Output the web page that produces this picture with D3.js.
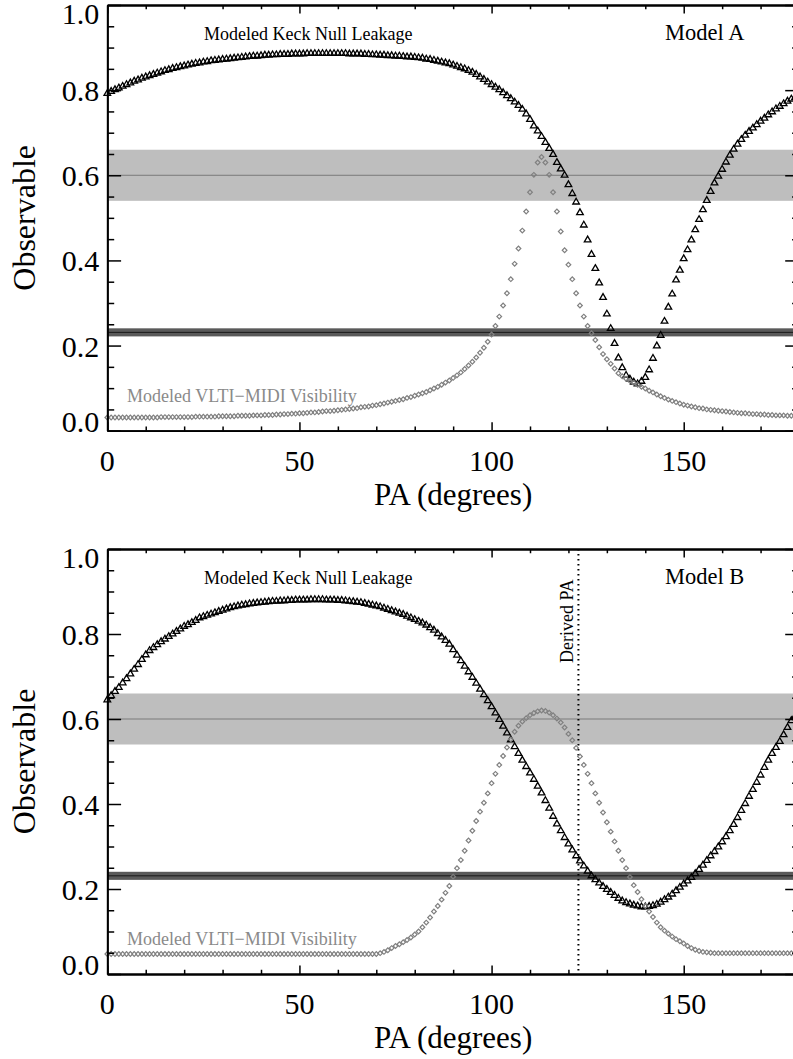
<!DOCTYPE html>
<html>
<head>
<meta charset="utf-8">
<script src="https://cdn.jsdelivr.net/npm/d3@7"></script>
<style>
  body { margin: 0; background: #fff; }
  svg text { font-family: "Liberation Serif", "DejaVu Serif", serif !important; }
</style>
</head>
<body>
<div id="chart"></div>
<script>
// One value per degree of PA: index i of each array is PA = i (0..180)
var keckA = [
  0.792,0.797,0.801,0.805,0.809,0.813,0.817,0.821,0.824,0.828,0.831,
  0.834,0.837,0.840,0.843,0.846,0.848,0.851,0.853,0.855,0.857,
  0.859,0.861,0.863,0.864,0.866,0.867,0.869,0.870,0.871,0.872,
  0.873,0.874,0.875,0.876,0.877,0.878,0.879,0.880,0.880,0.881,
  0.882,0.882,0.883,0.883,0.884,0.884,0.884,0.885,0.885,0.885,
  0.885,0.886,0.886,0.886,0.886,0.886,0.886,0.886,0.886,0.886,
  0.886,0.886,0.885,0.885,0.885,0.885,0.884,0.884,0.883,0.883,
  0.882,0.882,0.881,0.881,0.880,0.880,0.879,0.878,0.878,0.877,
  0.876,0.875,0.873,0.872,0.870,0.868,0.866,0.864,0.862,0.859,
  0.856,0.853,0.850,0.846,0.842,0.837,0.831,0.825,0.819,0.813,
  0.807,0.801,0.794,0.787,0.780,0.772,0.764,0.755,0.744,0.731,
  0.716,0.704,0.691,0.677,0.663,0.649,0.630,0.615,0.600,0.578,
  0.557,0.537,0.512,0.483,0.448,0.414,0.381,0.347,0.313,0.274,
  0.240,0.205,0.171,0.148,0.130,0.121,0.114,0.110,0.116,0.125,
  0.143,0.170,0.199,0.224,0.257,0.290,0.321,0.354,0.377,0.404,
  0.425,0.448,0.472,0.496,0.519,0.541,0.562,0.582,0.598,0.614,
  0.631,0.647,0.661,0.673,0.684,0.694,0.703,0.711,0.719,0.727,
  0.734,0.742,0.749,0.756,0.762,0.768,0.774,0.779,0.783,0.787
];
var vltiA = [
  0.031,0.031,0.031,0.031,0.031,0.031,0.031,0.031,0.031,0.031,0.031,
  0.031,0.031,0.031,0.032,0.032,0.032,0.032,0.032,0.032,0.032,
  0.032,0.032,0.033,0.033,0.033,0.033,0.033,0.033,0.034,0.034,
  0.034,0.034,0.034,0.035,0.035,0.035,0.035,0.036,0.036,0.036,
  0.037,0.037,0.037,0.038,0.038,0.039,0.039,0.040,0.040,0.041,
  0.041,0.042,0.043,0.043,0.044,0.045,0.046,0.046,0.047,0.048,
  0.049,0.050,0.051,0.052,0.053,0.055,0.056,0.057,0.059,0.060,
  0.062,0.064,0.066,0.068,0.070,0.072,0.074,0.077,0.079,0.082,
  0.085,0.088,0.091,0.095,0.099,0.103,0.108,0.113,0.118,0.124,
  0.130,0.137,0.145,0.153,0.162,0.172,0.183,0.195,0.209,0.226,
  0.246,0.268,0.294,0.323,0.356,0.392,0.428,0.470,0.515,0.560,
  0.601,0.630,0.643,0.630,0.601,0.560,0.515,0.468,0.424,0.390,
  0.356,0.323,0.294,0.268,0.246,0.229,0.213,0.196,0.180,0.168,
  0.157,0.146,0.135,0.128,0.122,0.117,0.112,0.108,0.103,0.099,
  0.094,0.090,0.085,0.081,0.077,0.073,0.070,0.067,0.064,0.061,
  0.059,0.057,0.055,0.053,0.052,0.050,0.049,0.048,0.047,0.046,
  0.045,0.044,0.043,0.042,0.041,0.041,0.040,0.039,0.039,0.038,
  0.038,0.037,0.037,0.036,0.036,0.036,0.035,0.035,0.035,0.035
];
var keckB = [
  0.645,0.655,0.665,0.674,0.685,0.695,0.706,0.717,0.728,0.740,0.751,
  0.761,0.768,0.775,0.782,0.788,0.794,0.800,0.806,0.812,0.818,
  0.822,0.827,0.832,0.838,0.841,0.844,0.847,0.850,0.853,0.856,
  0.859,0.862,0.864,0.866,0.868,0.869,0.871,0.872,0.873,0.874,
  0.875,0.876,0.877,0.877,0.878,0.878,0.879,0.879,0.880,0.880,
  0.880,0.880,0.881,0.881,0.881,0.881,0.880,0.880,0.880,0.879,
  0.879,0.878,0.877,0.876,0.875,0.874,0.872,0.870,0.868,0.866,
  0.864,0.861,0.858,0.855,0.852,0.849,0.846,0.842,0.838,0.834,
  0.830,0.826,0.821,0.815,0.809,0.801,0.793,0.785,0.776,0.763,
  0.750,0.737,0.724,0.711,0.698,0.684,0.670,0.657,0.643,0.629,
  0.614,0.599,0.583,0.567,0.551,0.535,0.519,0.503,0.488,0.473,
  0.458,0.442,0.426,0.408,0.390,0.371,0.353,0.337,0.321,0.306,
  0.292,0.278,0.266,0.254,0.242,0.231,0.222,0.214,0.206,0.199,
  0.192,0.185,0.178,0.172,0.168,0.165,0.162,0.160,0.158,0.158,
  0.159,0.161,0.164,0.169,0.175,0.181,0.188,0.196,0.204,0.212,
  0.219,0.227,0.236,0.246,0.256,0.267,0.278,0.288,0.299,0.311,
  0.323,0.337,0.352,0.368,0.385,0.401,0.418,0.434,0.451,0.468,
  0.486,0.503,0.519,0.533,0.547,0.563,0.580,0.596,0.606,0.616
];
var vltiB = [
  0.047,0.047,0.047,0.047,0.047,0.047,0.047,0.047,0.047,0.047,0.047,
  0.047,0.047,0.047,0.047,0.047,0.047,0.047,0.047,0.047,0.047,
  0.047,0.047,0.047,0.047,0.047,0.047,0.047,0.047,0.047,0.047,
  0.047,0.047,0.047,0.047,0.047,0.047,0.047,0.047,0.047,0.047,
  0.047,0.047,0.047,0.047,0.047,0.047,0.047,0.047,0.047,0.047,
  0.047,0.047,0.047,0.047,0.047,0.047,0.047,0.047,0.047,0.047,
  0.047,0.047,0.047,0.047,0.047,0.047,0.047,0.047,0.047,0.047,
  0.049,0.052,0.056,0.061,0.066,0.070,0.075,0.080,0.086,0.093,
  0.100,0.110,0.121,0.133,0.147,0.160,0.175,0.191,0.207,0.229,
  0.249,0.268,0.290,0.314,0.337,0.360,0.382,0.403,0.425,0.449,
  0.471,0.492,0.513,0.533,0.552,0.570,0.584,0.594,0.602,0.609,
  0.614,0.618,0.620,0.619,0.615,0.609,0.601,0.592,0.580,0.565,
  0.550,0.532,0.512,0.492,0.471,0.449,0.425,0.403,0.380,0.357,
  0.335,0.312,0.290,0.268,0.249,0.228,0.209,0.193,0.176,0.160,
  0.147,0.134,0.121,0.110,0.102,0.095,0.088,0.082,0.077,0.072,
  0.066,0.061,0.057,0.054,0.052,0.051,0.050,0.049,0.049,0.049,
  0.049,0.049,0.049,0.049,0.049,0.049,0.049,0.049,0.049,0.049,
  0.049,0.049,0.049,0.049,0.049,0.049,0.049,0.049,0.049,0.049
];

// Observed values: [low, centre, high]
var midiBand = [0.54, 0.60, 0.66];
var keckBand = [0.2215, 0.231, 0.2405];
var derivedPA = 122.6;

var xMajor = [0, 50, 100, 150];
var xMinor = [10, 20, 30, 40, 60, 70, 80, 90, 110, 120, 130, 140, 160, 170];
var yMajor = [0.0, 0.2, 0.4, 0.6, 0.8, 1.0];
var yMinor = [0.05, 0.1, 0.15, 0.25, 0.3, 0.35, 0.45, 0.5, 0.55, 0.65, 0.7, 0.75, 0.85, 0.9, 0.95];

var width = 793, height = 1059;
var left = 107.3, right = 799;
var serif = '"Liberation Serif", "DejaVu Serif", serif';

var svg = d3.select('#chart')
            .append('svg')
            .attr('width', width)
            .attr('height', height)
            .attr('font-family', serif);

var x = d3.scaleLinear().domain([0, 180]).range([left, right]);

var triangle = d3.symbol().type(d3.symbolTriangle).size(19);
var diamond = d3.symbol().type(d3.symbolSquare).size(11);

function drawPanel(top, bottom, keck, vlti, model, showDerived) {
  var y = d3.scaleLinear().domain([0, 1]).range([bottom, top]);
  var g = svg.append('g');
  var xLen = 8.5, yLen = 13.8;

  // observed MIDI visibility band
  g.append('rect')
   .attr('x', x(0)).attr('width', x(180) - x(0))
   .attr('y', y(midiBand[2])).attr('height', y(midiBand[0]) - y(midiBand[2]))
   .attr('fill', '#bebebe');
  g.append('line')
   .attr('x1', x(0)).attr('x2', x(180))
   .attr('y1', y(midiBand[1])).attr('y2', y(midiBand[1]))
   .attr('stroke', '#7a7a7a').attr('stroke-width', 1);

  // observed Keck null band
  g.append('rect')
   .attr('x', x(0)).attr('width', x(180) - x(0))
   .attr('y', y(keckBand[2])).attr('height', y(keckBand[0]) - y(keckBand[2]))
   .attr('fill', '#5a5a5a');
  g.append('line')
   .attr('x1', x(0)).attr('x2', x(180))
   .attr('y1', y(keckBand[1])).attr('y2', y(keckBand[1]))
   .attr('stroke', '#1a1a1a').attr('stroke-width', 1);

  if (showDerived) {
    g.append('line')
     .attr('x1', x(derivedPA)).attr('x2', x(derivedPA))
     .attr('y1', y(1)).attr('y2', y(0))
     .attr('stroke', '#000').attr('stroke-width', 2)
     .attr('stroke-dasharray', '1.6,3.4');
    g.append('text')
     .attr('transform', 'translate(' + (x(derivedPA) - 5.5) + ',' + (top + 114) + ') rotate(-90)')
     .attr('font-family', serif)
     .attr('font-size', 18)
     .text('Derived PA');
  }

  // modeled Keck null leakage
  g.selectAll('.tri')
   .data(keck).enter()
   .append('path')
   .attr('d', triangle)
   .attr('transform', function(d, i) { return 'translate(' + x(i) + ',' + y(d) + ')'; })
   .attr('fill', 'none').attr('stroke', '#000').attr('stroke-width', 1.3);

  // modeled VLTI-MIDI visibility
  g.selectAll('.dia')
   .data(vlti).enter()
   .append('path')
   .attr('d', diamond)
   .attr('transform', function(d, i) { return 'translate(' + x(i) + ',' + y(d) + ') rotate(45)'; })
   .attr('fill', 'none').attr('stroke', '#808080').attr('stroke-width', 1.2);

  // axes: ticks point inward on all four sides
  function axis(gen, tr, vals, size) {
    var a = g.append('g').attr('transform', tr)
             .call(gen.tickValues(vals).tickSize(size).tickSizeOuter(0).tickFormat(''));
    a.select('.domain').attr('stroke-width', 1.8);
    a.selectAll('line').attr('stroke-width', 1.5);
  }
  axis(d3.axisBottom(x), 'translate(0,' + bottom + ')', xMajor, -xLen);
  axis(d3.axisBottom(x), 'translate(0,' + bottom + ')', xMinor, -xLen / 2);
  axis(d3.axisTop(x), 'translate(0,' + top + ')', xMajor, -xLen);
  axis(d3.axisTop(x), 'translate(0,' + top + ')', xMinor, -xLen / 2);
  axis(d3.axisLeft(y), 'translate(' + left + ',0)', yMajor, -yLen);
  axis(d3.axisLeft(y), 'translate(' + left + ',0)', yMinor, -yLen / 2);
  axis(d3.axisRight(y), 'translate(' + right + ',0)', yMajor, -yLen);
  axis(d3.axisRight(y), 'translate(' + right + ',0)', yMinor, -yLen / 2);

  // tick labels
  g.selectAll('.xl')
   .data(xMajor).enter()
   .append('text')
   .attr('x', function(d) { return x(d); })
   .attr('y', bottom + 40)
   .attr('text-anchor', 'middle')
   .attr('font-family', serif)
   .attr('font-size', 30)
   .text(function(d) { return d; });

  g.selectAll('.yl')
   .data(yMajor).enter()
   .append('text')
   .attr('x', left - 8)
   .attr('y', function(d) { return Math.max(top + 19, Math.min(bottom + 1, y(d) + 11)); })
   .attr('text-anchor', 'end')
   .attr('font-family', serif)
   .attr('font-size', 30)
   .text(function(d) { return d3.format('.1f')(d); });

  // axis titles
  g.append('text')
   .attr('x', (left + right) / 2)
   .attr('y', bottom + 74)
   .attr('text-anchor', 'middle')
   .attr('font-family', serif)
   .attr('font-size', 31)
   .text('PA (degrees)');

  g.append('text')
   .attr('transform', 'translate(35,' + ((top + bottom) / 2) + ') rotate(-90)')
   .attr('text-anchor', 'middle')
   .attr('font-family', serif)
   .attr('font-size', 32)
   .text('Observable');

  // annotations
  g.append('text')
   .attr('x', 204).attr('y', top + 35)
   .attr('font-family', serif)
   .attr('font-size', 18)
   .text('Modeled Keck Null Leakage');

  g.append('text')
   .attr('x', 665).attr('y', top + 35)
   .attr('font-family', serif)
   .attr('font-size', 22.5)
   .text(model);

  g.append('text')
   .attr('x', 127).attr('y', bottom - 29)
   .attr('font-family', serif)
   .attr('font-size', 18)
   .attr('fill', '#8a8a8a')
   .text('Modeled VLTI\u2212MIDI Visibility');
}

drawPanel(5, 430.7, keckA, vltiA, 'Model A', false);
drawPanel(549, 974, keckB, vltiB, 'Model B', true);
</script>
</body>
</html>
